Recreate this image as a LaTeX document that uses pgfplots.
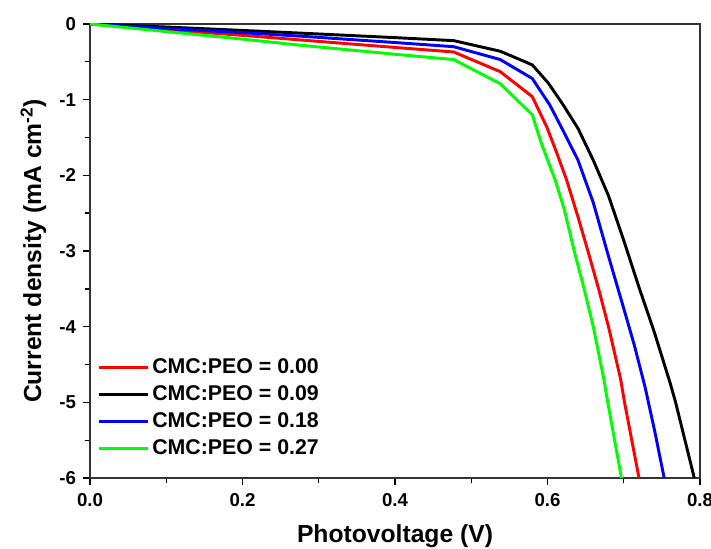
\documentclass[border=0pt]{standalone}
\usepackage{fontspec}
\setmainfont{Liberation Sans}
\usepackage{pgfplots}
\pgfplotsset{compat=1.18}
\definecolor{cred}{RGB}{255,0,0}
\definecolor{cblue}{RGB}{0,0,255}
\definecolor{cgreen}{RGB}{0,255,0}
\begin{document}
\begin{tikzpicture}
\begin{axis}[
  scale only axis,
  width=457.5pt, height=340.5pt,
  xmin=0, xmax=0.8, ymin=-6, ymax=0,
  xtick={0,0.2,0.4,0.6,0.8},
  ytick={-6,-5,-4,-3,-2,-1,0},
  minor x tick num=1, minor y tick num=1,
  xtick pos=bottom, ytick pos=left,
  tick align=outside,
  major tick length=5pt, minor tick length=4pt,
  every tick/.style={black, line width=1pt},
  axis line style={line width=1.2pt, black!80},
  /pgf/number format/assume math mode=true,
  xticklabel style={/pgf/number format/fixed, /pgf/number format/fixed zerofill, /pgf/number format/precision=1},
  every tick label/.append style={font=\fontsize{14}{16}\selectfont\bfseries},
  xticklabel style={yshift=-3pt},
  yticklabel style={xshift=-2pt},
  xlabel={Photovoltage (V)},
  ylabel={Current density (mA cm\textsuperscript{-2})},
  label style={font=\fontsize{18.5}{22}\selectfont\bfseries},
  xlabel style={yshift=-7pt},
  ylabel style={yshift=3pt},
  legend style={draw=none, fill=none, at={(0.005,0.035)}, anchor=south west,
    font=\fontsize{16}{19}\selectfont\bfseries, row sep=3.5pt,
    /tikz/every odd column/.append style={column sep=0pt}},
  legend cell align=left,
  legend image code/.code={\draw[#1] (0pt,0pt) -- (37pt,0pt);},
  every axis plot/.append style={line width=2.2pt, line join=round},
]
\addplot[cred] coordinates {
(0,0) (0.1,-0.075) (0.2,-0.15) (0.275,-0.21) (0.4,-0.31) (0.477,-0.37) (0.538,-0.63) (0.58,-0.96) (0.599,-1.36) (0.612,-1.70) (0.625,-2.06) (0.64,-2.55) (0.653,-3.0) (0.667,-3.5) (0.680,-4.0) (0.696,-4.7) (0.701,-5.0) (0.720,-6)
};
\addlegendentry{CMC:PEO = 0.00}
\addplot[black] coordinates {
(0,0) (0.1,-0.04) (0.2,-0.085) (0.275,-0.12) (0.4,-0.18) (0.477,-0.22) (0.538,-0.36) (0.58,-0.54) (0.601,-0.78) (0.62,-1.06) (0.64,-1.38) (0.66,-1.80) (0.68,-2.27) (0.70,-2.86) (0.72,-3.48) (0.74,-4.07) (0.761,-4.75) (0.768,-5.0) (0.7925,-6)
};
\addlegendentry{CMC:PEO = 0.09}
\addplot[cblue] coordinates {
(0,0) (0.1,-0.06) (0.2,-0.115) (0.275,-0.16) (0.4,-0.245) (0.477,-0.30) (0.538,-0.47) (0.58,-0.72) (0.603,-1.07) (0.62,-1.40) (0.64,-1.80) (0.66,-2.36) (0.68,-3.07) (0.70,-3.76) (0.714,-4.25) (0.728,-4.8) (0.741,-5.4) (0.753,-6)
};
\addlegendentry{CMC:PEO = 0.18}
\addplot[cgreen] coordinates {
(0,0) (0.1,-0.10) (0.2,-0.20) (0.275,-0.28) (0.4,-0.40) (0.477,-0.47) (0.538,-0.79) (0.58,-1.20) (0.592,-1.58) (0.610,-2.06) (0.622,-2.45) (0.635,-3.0) (0.648,-3.5) (0.660,-4.0) (0.674,-4.7) (0.679,-5.0) (0.697,-6)
};
\addlegendentry{CMC:PEO = 0.27}
\end{axis}
\pgfresetboundingbox
\path[use as bounding box] ([shift={(-67.5pt,-52.5pt)}]current axis.south west) rectangle ([shift={(8.25pt,18pt)}]current axis.north east);
\end{tikzpicture}
\end{document}
